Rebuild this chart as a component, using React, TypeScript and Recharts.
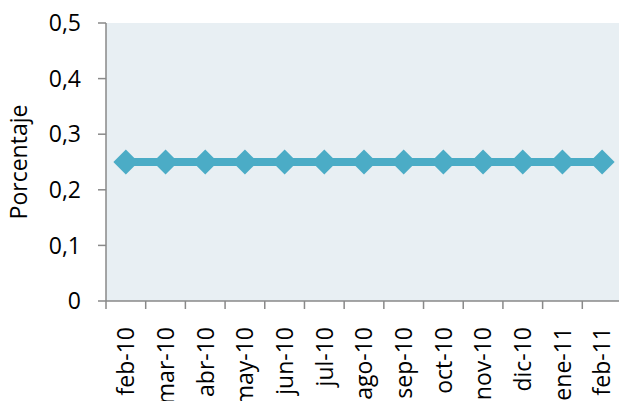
import React from 'react';
import { LineChart, Line, XAxis, YAxis, CartesianGrid } from 'recharts';

const categories = ['feb-10', 'mar-10', 'abr-10', 'may-10', 'jun-10', 'jul-10', 'ago-10', 'sep-10', 'oct-10', 'nov-10', 'dic-10', 'ene-11', 'feb-11'];
const values = [0.25, 0.25, 0.25, 0.25, 0.25, 0.25, 0.25, 0.25, 0.25, 0.25, 0.25, 0.25, 0.25];
const yTicks = [0, 0.1, 0.2, 0.3, 0.4, 0.5];
const yLabel = 'Porcentaje';

const data = categories.map((c, i) => ({ name: c, value: values[i] }));

const FONT = '"Open Sans", sans-serif';
const AXIS = '#898989';
const LINE = '#4BACC6';

const fmt = (v: number) => (v === 0 ? '0' : v.toFixed(1).replace('.', ','));

const XTick = (props: any) => {
  const { x, y, payload, index, visibleTicksCount } = props;
  const off = payload && payload.offset != null ? payload.offset : 0;
  const axisY = y - 26;
  const last = index === (visibleTicksCount ?? categories.length) - 1;
  return (
    <g>
      <line x1={x - off} x2={x - off} y1={axisY} y2={axisY + 8} stroke={AXIS} strokeWidth={1.5} />
      {last && <line x1={x + off} x2={x + off} y1={axisY} y2={axisY + 8} stroke={AXIS} strokeWidth={1.5} />}
      <text
        x={0}
        y={0}
        transform={`translate(${x},${y}) rotate(-90)`}
        textAnchor="end"
        dy="0.36em"
        fontFamily={FONT}
        fontSize={23}
        fill="#000"
      >
        {payload.value}
      </text>
    </g>
  );
};

const Diamond = (props: any) => {
  const { cx, cy } = props;
  if (cx == null || cy == null) return null;
  const r = 12.5;
  return <path d={`M${cx - r},${cy} L${cx},${cy - r} L${cx + r},${cy} L${cx},${cy + r} Z`} fill={LINE} />;
};

const YLabel = (props: any) => {
  const vb = props.viewBox || {};
  const cx = vb.x + 27;
  const cy = vb.y + vb.height / 2;
  return (
    <text
      x={0}
      y={0}
      transform={`translate(${cx},${cy}) rotate(-90)`}
      textAnchor="middle"
      fontFamily={FONT}
      fontSize={23}
      fill="#000"
    >
      {yLabel}
    </text>
  );
};

export default function App() {
  return (
    <div style={{ position: 'absolute', left: 0, top: 0, width: 619, height: 401, overflow: 'hidden', background: '#fff' }}>
      <LineChart width={625} height={401} data={data} margin={{ top: 23, right: 3, bottom: 0, left: 0 }}>
        <CartesianGrid horizontal={false} vertical={false} fill="#E8EFF3" stroke="none" />
        <XAxis
          dataKey="name"
          scale="band"
          height={100}
          interval={0}
          tickLine={false}
          tickSize={0}
          tickMargin={26}
          tick={<XTick />}
          axisLine={{ stroke: AXIS, strokeWidth: 1.5 }}
        />
        <YAxis
          width={106}
          domain={[0, 0.5]}
          ticks={yTicks}
          interval={0}
          tickFormatter={fmt}
          tickSize={8}
          tickMargin={17}
          tickLine={{ stroke: AXIS, strokeWidth: 1.5 }}
          axisLine={{ stroke: AXIS, strokeWidth: 1.5 }}
          tick={{ fontFamily: FONT, fontSize: 23, fill: '#000' }}
          label={{ content: <YLabel /> } as any}
        />
        <Line
          type="linear"
          dataKey="value"
          stroke={LINE}
          strokeWidth={8}
          dot={<Diamond />}
          activeDot={false}
          isAnimationActive={false}
        />
      </LineChart>
    </div>
  );
}
